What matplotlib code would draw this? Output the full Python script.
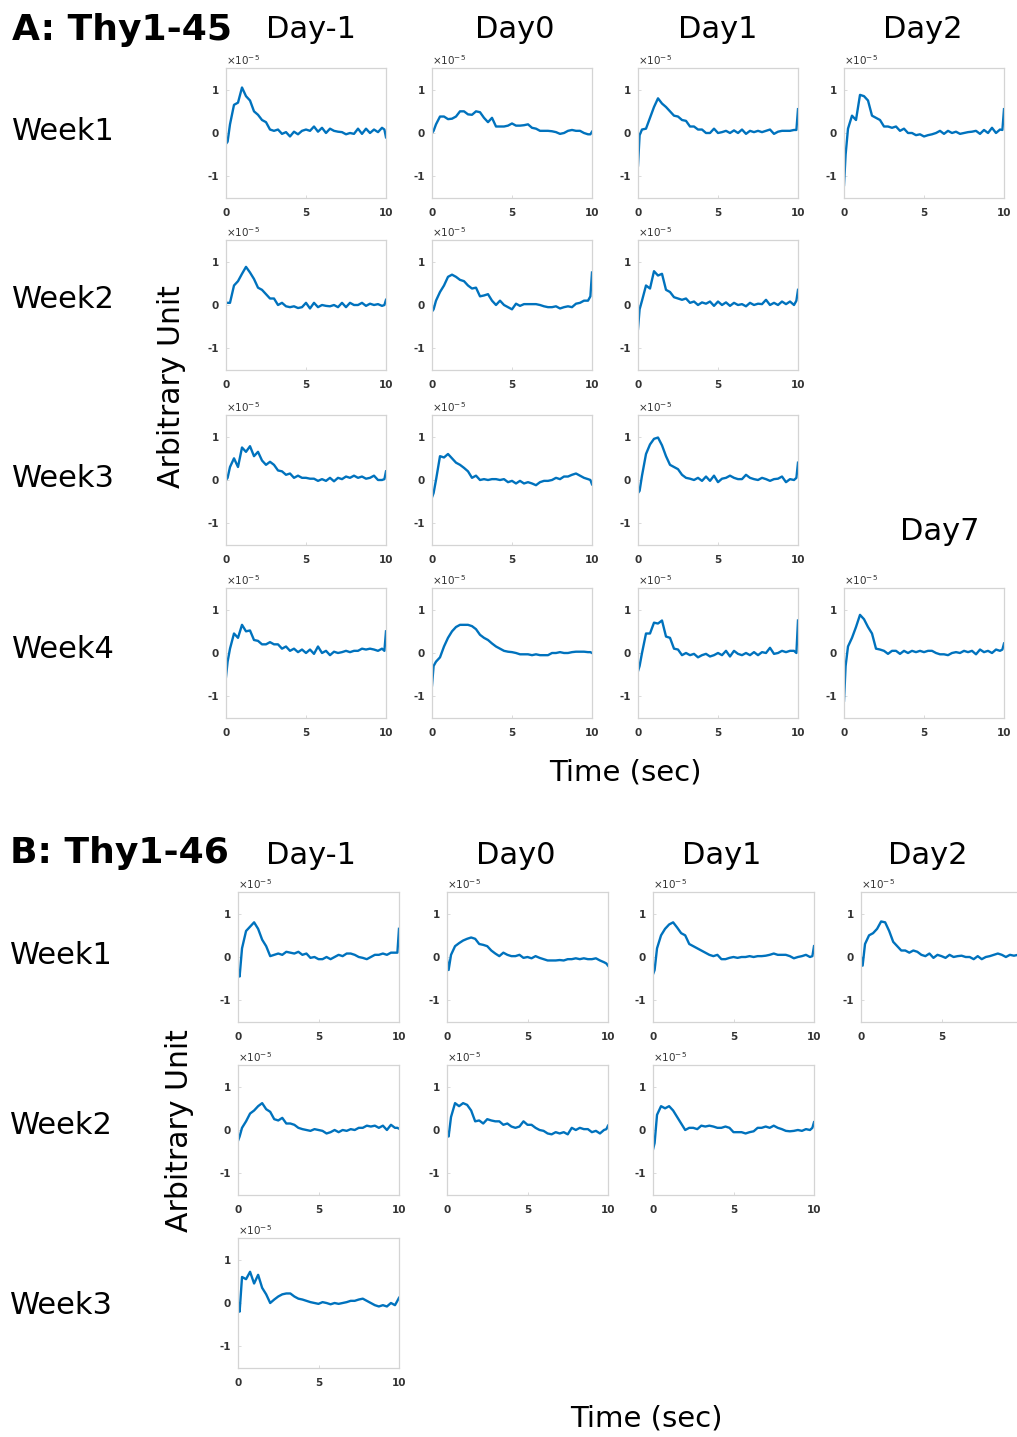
import matplotlib
matplotlib.use("Agg")
import matplotlib.pyplot as plt

# ---------------- data ----------------
TIME = [0, 0.1, 0.25, 0.5, 0.75, 1.0, 1.25, 1.5, 1.75, 2.0, 2.25, 2.5, 2.75, 3.0,
        3.25, 3.5, 3.75, 4.0, 4.25, 4.5, 4.75, 5.0, 5.25, 5.5, 5.75, 6.0, 6.25,
        6.5, 6.75, 7.0, 7.25, 7.5, 7.75, 8.0, 8.25, 8.5, 8.75, 9.0, 9.25, 9.5,
        9.75, 9.9, 10.0]

day_labels = ["Day-1", "Day0", "Day1", "Day2"]
week_labels_a = ["Week1", "Week2", "Week3", "Week4"]
week_labels_b = ["Week1", "Week2", "Week3"]
x_ticks = [0, 5, 10]
y_ticks = [-1, 0, 1]

# Thy1-45 (values x 1e-5)
a_w1_dm1 = [-0.25, -0.2, 0.2, 0.65, 0.7, 1.05, 0.85, 0.75, 0.5, 0.42, 0.3, 0.25, 0.08, 0.05,
            0.08, -0.02, 0.02, -0.08, 0.03, -0.03, 0.05, 0.08, 0.05, 0.15, 0.03, 0.12, 0.0,
            0.1, 0.05, 0.03, 0.02, -0.03, 0.0, -0.02, 0.1, -0.02, 0.1, 0.0, 0.08, 0.02,
            0.12, 0.08, -0.1]
a_w1_d0 = [0.0, 0.05, 0.2, 0.38, 0.38, 0.32, 0.33, 0.38, 0.5, 0.5, 0.43, 0.42, 0.5, 0.48,
           0.35, 0.25, 0.35, 0.15, 0.15, 0.15, 0.17, 0.22, 0.17, 0.17, 0.18, 0.2, 0.12,
           0.1, 0.05, 0.05, 0.05, 0.04, 0.02, -0.02, 0.0, 0.05, 0.07, 0.05, 0.05, 0.0,
           -0.03, -0.03, 0.03]
a_w1_d1 = [-0.75, -0.05, 0.08, 0.1, 0.35, 0.6, 0.8, 0.68, 0.6, 0.5, 0.4, 0.38, 0.3, 0.28,
           0.15, 0.15, 0.08, 0.08, 0.0, 0.0, 0.1, 0.0, 0.02, 0.05, 0.0, 0.06, 0.0,
           0.08, -0.02, 0.05, 0.02, 0.05, 0.02, 0.05, 0.08, -0.02, 0.03, 0.05, 0.05, 0.05,
           0.07, 0.07, 0.55]
a_w1_d2 = [-1.2, -0.5, 0.1, 0.4, 0.3, 0.88, 0.85, 0.75, 0.4, 0.35, 0.3, 0.15, 0.15, 0.12,
           0.15, 0.05, 0.1, 0.0, 0.0, -0.05, -0.03, -0.08, -0.05, -0.03, 0.0, 0.05, -0.02,
           0.05, 0.0, 0.03, -0.02, 0.0, 0.02, 0.03, 0.05, -0.02, 0.07, 0.0, 0.12, 0.0,
           0.08, 0.07, 0.55]
a_w2_dm1 = [0.05, 0.05, 0.05, 0.45, 0.55, 0.72, 0.88, 0.75, 0.6, 0.4, 0.35, 0.25, 0.15, 0.15,
            0.0, 0.05, -0.03, -0.05, -0.03, -0.07, -0.05, 0.05, -0.08, 0.05, -0.05, 0.0, -0.02,
            -0.03, 0.0, -0.05, 0.05, -0.05, 0.05, 0.0, 0.0, 0.05, -0.02, 0.03, 0.0, 0.02,
            -0.02, 0.0, 0.12]
a_w2_d0 = [-0.15, -0.1, 0.1, 0.3, 0.45, 0.65, 0.7, 0.65, 0.58, 0.55, 0.45, 0.38, 0.4, 0.2,
           0.22, 0.25, 0.1, 0.0, 0.1, 0.0, -0.05, -0.1, 0.03, -0.02, 0.02, 0.02, 0.02,
           0.02, 0.0, -0.03, -0.05, -0.05, -0.03, -0.08, -0.05, -0.03, -0.05, 0.03, 0.05, 0.1,
           0.1, 0.2, 0.75]
a_w2_d1 = [-0.55, -0.1, 0.1, 0.45, 0.38, 0.78, 0.68, 0.72, 0.35, 0.3, 0.18, 0.15, 0.12, 0.15,
           0.05, 0.08, 0.0, 0.06, 0.03, 0.08, -0.02, 0.08, 0.0, 0.06, -0.02, 0.05, 0.0,
           0.02, -0.03, 0.05, 0.0, 0.03, 0.02, 0.12, 0.0, 0.05, 0.0, 0.08, 0.02, 0.08,
           0.0, 0.1, 0.35]
a_w3_dm1 = [0.0, 0.05, 0.3, 0.5, 0.3, 0.75, 0.65, 0.78, 0.55, 0.65, 0.45, 0.35, 0.42, 0.35,
            0.22, 0.2, 0.12, 0.15, 0.05, 0.1, 0.05, 0.05, 0.03, 0.03, -0.02, 0.02, -0.02,
            0.05, -0.03, 0.05, 0.02, 0.08, 0.05, 0.1, 0.05, 0.08, 0.03, 0.05, 0.1, 0.0,
            0.0, 0.02, 0.2]
a_w3_d0 = [-0.4, -0.3, 0.0, 0.55, 0.52, 0.6, 0.5, 0.4, 0.35, 0.28, 0.2, 0.05, 0.1, 0.0,
           0.02, 0.0, 0.02, 0.02, 0.0, 0.02, -0.05, -0.02, -0.08, -0.02, -0.08, -0.05, -0.08,
           -0.12, -0.05, -0.02, -0.02, 0.0, 0.05, 0.02, 0.08, 0.08, 0.12, 0.15, 0.1, 0.05,
           0.02, 0.0, -0.1]
a_w3_d1 = [-0.3, -0.25, 0.1, 0.6, 0.82, 0.95, 0.98, 0.8, 0.55, 0.35, 0.3, 0.25, 0.12, 0.05,
           0.03, 0.0, 0.05, -0.02, 0.08, -0.02, 0.1, -0.05, 0.03, 0.05, 0.1, 0.05, 0.02,
           0.02, 0.12, 0.05, 0.02, 0.0, 0.05, 0.02, -0.02, 0.02, 0.03, 0.08, -0.05, 0.02,
           0.0, 0.05, 0.4]
a_w4_dm1 = [-0.55, -0.2, 0.1, 0.45, 0.35, 0.65, 0.5, 0.52, 0.3, 0.28, 0.2, 0.2, 0.25, 0.2,
            0.2, 0.1, 0.15, 0.05, 0.1, 0.02, 0.08, 0.0, 0.08, -0.02, 0.15, 0.0, 0.05,
            -0.05, 0.03, 0.0, 0.02, 0.05, 0.02, 0.05, 0.05, 0.1, 0.08, 0.1, 0.08, 0.05,
            0.1, 0.05, 0.5]
a_w4_d0 = [-0.75, -0.3, -0.2, -0.1, 0.15, 0.35, 0.5, 0.6, 0.65, 0.65, 0.65, 0.62, 0.55, 0.42,
           0.35, 0.3, 0.22, 0.15, 0.1, 0.05, 0.03, 0.02, 0.0, -0.03, -0.03, -0.03, -0.05,
           -0.03, -0.05, -0.05, -0.05, 0.0, 0.0, 0.02, 0.0, 0.0, 0.02, 0.03, 0.03, 0.03,
           0.02, 0.02, 0.0]
a_w4_d1 = [-0.42, -0.3, 0.0, 0.45, 0.45, 0.7, 0.68, 0.75, 0.38, 0.35, 0.1, 0.08, -0.05, 0.0,
           -0.05, -0.02, -0.1, -0.05, -0.02, -0.08, -0.05, 0.0, -0.05, 0.05, -0.08, 0.05, -0.02,
           -0.05, 0.0, -0.05, 0.02, -0.05, 0.02, 0.0, 0.12, -0.02, 0.0, 0.05, 0.02, 0.05,
           0.05, 0.0, 0.75]
a_w4_d7 = [-1.1, -0.3, 0.15, 0.35, 0.6, 0.88, 0.78, 0.6, 0.45, 0.1, 0.08, 0.05, -0.02, 0.05,
           0.05, -0.02, 0.05, 0.0, 0.05, 0.02, 0.05, 0.02, 0.05, 0.05, 0.0, -0.03, -0.03,
           -0.05, 0.0, 0.02, 0.0, 0.05, 0.02, 0.05, -0.03, 0.08, 0.02, 0.05, 0.0, 0.08,
           0.05, 0.08, 0.22]

# Thy1-46 (values x 1e-5)
b_w1_dm1 = [-0.3, -0.45, 0.2, 0.6, 0.7, 0.8, 0.65, 0.4, 0.25, 0.02, 0.05, 0.08, 0.05, 0.12,
            0.1, 0.08, 0.12, 0.05, 0.08, -0.02, 0.0, -0.05, -0.05, 0.0, -0.05, 0.0, 0.05,
            0.02, 0.08, 0.08, 0.05, 0.0, -0.02, -0.05, 0.0, 0.05, 0.05, 0.08, 0.05, 0.1,
            0.1, 0.1, 0.65]
b_w1_d0 = [-0.05, -0.3, 0.05, 0.25, 0.32, 0.38, 0.42, 0.45, 0.42, 0.3, 0.28, 0.25, 0.15, 0.08,
           0.02, 0.1, 0.05, 0.02, 0.02, 0.05, -0.02, 0.0, -0.03, 0.02, -0.02, -0.05, -0.08,
           -0.08, -0.08, -0.07, -0.08, -0.05, -0.05, -0.03, -0.05, -0.03, -0.05, -0.05, -0.03, -0.08,
           -0.12, -0.15, -0.2]
b_w1_d1 = [-0.4, -0.3, 0.2, 0.5, 0.65, 0.75, 0.8, 0.68, 0.55, 0.5, 0.3, 0.25, 0.2, 0.15,
           0.1, 0.05, 0.02, 0.05, -0.05, -0.05, -0.02, 0.0, -0.02, 0.0, 0.0, 0.02, 0.0,
           0.02, 0.02, 0.03, 0.05, 0.08, 0.05, 0.05, 0.05, 0.02, -0.03, 0.0, 0.02, 0.05,
           0.0, 0.02, 0.25]
b_w1_d2 = [0.0, -0.2, 0.3, 0.5, 0.55, 0.65, 0.82, 0.8, 0.6, 0.35, 0.25, 0.15, 0.15, 0.1,
           0.15, 0.12, 0.05, 0.02, 0.08, -0.02, 0.05, 0.02, -0.02, 0.05, 0.0, 0.02, 0.03,
           0.0, 0.0, -0.05, 0.02, -0.05, 0.0, 0.02, 0.05, 0.08, 0.05, 0.0, 0.05, 0.03,
           0.05, 0.05, 0.08]
b_w2_dm1 = [-0.25, -0.15, 0.05, 0.2, 0.38, 0.45, 0.55, 0.62, 0.48, 0.42, 0.25, 0.22, 0.28, 0.15,
            0.15, 0.12, 0.05, 0.02, 0.0, -0.02, 0.02, 0.0, -0.02, -0.08, -0.05, 0.0, -0.05,
            0.0, -0.02, 0.02, 0.0, 0.05, 0.05, 0.1, 0.08, 0.1, 0.05, 0.1, 0.0, 0.12,
            0.05, 0.05, 0.03]
b_w2_d0 = [-0.05, -0.15, 0.3, 0.62, 0.55, 0.62, 0.58, 0.45, 0.2, 0.22, 0.15, 0.25, 0.22, 0.2,
           0.2, 0.12, 0.15, 0.08, 0.05, 0.08, 0.2, 0.12, 0.12, 0.05, 0.0, -0.02, -0.08,
           -0.1, -0.05, -0.08, -0.05, -0.1, 0.05, 0.0, 0.05, 0.02, 0.02, -0.05, -0.02, -0.08,
           0.0, 0.02, 0.1]
b_w2_d1 = [-0.45, -0.3, 0.35, 0.55, 0.5, 0.55, 0.45, 0.3, 0.15, 0.0, 0.05, 0.05, 0.02, 0.1,
           0.08, 0.1, 0.08, 0.05, 0.05, 0.08, 0.05, -0.05, -0.05, -0.05, -0.08, -0.05, -0.03,
           0.05, 0.05, 0.08, 0.05, 0.1, 0.05, 0.02, -0.02, -0.03, -0.02, 0.0, -0.02, 0.02,
           0.0, 0.05, 0.18]
b_w3_dm1 = [0.0, -0.2, 0.6, 0.55, 0.72, 0.45, 0.65, 0.35, 0.2, 0.0, 0.08, 0.15, 0.2, 0.22,
            0.22, 0.15, 0.1, 0.08, 0.05, 0.02, 0.0, -0.02, 0.02, 0.0, -0.03, 0.0, -0.02,
            0.0, 0.02, 0.05, 0.05, 0.08, 0.1, 0.05, 0.0, -0.05, -0.08, -0.05, -0.08, 0.0,
            -0.05, 0.05, 0.12]

# grid layout (row, col) -> series
panels_a = [
    (0, 0, a_w1_dm1), (0, 1, a_w1_d0), (0, 2, a_w1_d1), (0, 3, a_w1_d2),
    (1, 0, a_w2_dm1), (1, 1, a_w2_d0), (1, 2, a_w2_d1),
    (2, 0, a_w3_dm1), (2, 1, a_w3_d0), (2, 2, a_w3_d1),
    (3, 0, a_w4_dm1), (3, 1, a_w4_d0), (3, 2, a_w4_d1), (3, 3, a_w4_d7),
]
panels_b = [
    (0, 0, b_w1_dm1), (0, 1, b_w1_d0), (0, 2, b_w1_d1), (0, 3, b_w1_d2),
    (1, 0, b_w2_dm1), (1, 1, b_w2_d0), (1, 2, b_w2_d1),
    (2, 0, b_w3_dm1),
]

# ---------------- figure ----------------
W, H = 1017, 1437
fig = plt.figure(figsize=(W / 100, H / 100), dpi=100)
fig.patch.set_facecolor("white")

LINE = "#0072BD"
SPINE = "#d4d4d4"
TICKC = "#333333"
FONT = "DejaVu Sans"


def add_panel(left, top, w, h, y):
    ax = fig.add_axes([left / W, 1 - (top + h) / H, w / W, h / H])
    ax.plot(TIME, y, color=LINE, lw=1.7)
    ax.set_xlim(0, 10)
    ax.set_ylim(-1.5, 1.5)
    ax.set_xticks(x_ticks)
    ax.set_yticks(y_ticks)
    # hide x tick labels that would fall outside the figure (cropped in the original)
    right_px = left + w
    xt = [str(v) if (left + w * v / 10 + 8) < W else "" for v in x_ticks]
    ax.set_xticklabels(xt)
    ax.set_yticklabels([str(v) for v in y_ticks])
    for s in ax.spines.values():
        s.set_color(SPINE)
        s.set_linewidth(0.9)
    ax.tick_params(direction="in", length=2, width=0.6, color=SPINE,
                   labelsize=7.5, labelcolor=TICKC)
    ax.tick_params(axis="x", pad=7)
    ax.tick_params(axis="y", pad=5)
    for lab in ax.get_xticklabels() + ax.get_yticklabels():
        lab.set_fontweight("bold")
    ax.text(0.0, 1.01, r"$\times10^{-5}$", transform=ax.transAxes,
            fontsize=7.5, color=TICKC, ha="left", va="bottom")
    return ax


def ftext(x, y, s, **kw):
    fig.text(x / W, 1 - y / H, s, family=FONT, **kw)


# Section A
a_lefts = [226, 432, 638, 844]
a_tops = [68, 240, 415, 588]
for r, c, y in panels_a:
    add_panel(a_lefts[c], a_tops[r], 160, 130, y)

ftext(12, 30, "A: Thy1-45", fontsize=26, fontweight="bold", ha="left", va="center")
for x, lab in zip([311, 515, 718, 923], day_labels):
    ftext(x, 30, lab, fontsize=22, ha="center", va="center")
for y, lab in zip([132, 299, 479, 649], week_labels_a):
    ftext(12, y, lab, fontsize=22, ha="left", va="center")
ftext(172, 387, "Arbitrary Unit", fontsize=21.5, rotation=90, ha="center", va="center")
ftext(625, 773, "Time (sec)", fontsize=21, ha="center", va="center")
ftext(940, 532, "Day7", fontsize=22, ha="center", va="center")

# Section B
b_lefts = [238, 447, 653, 861]
b_tops = [892, 1065, 1238]
for r, c, y in panels_b:
    add_panel(b_lefts[c], b_tops[r], 161, 130, y)

ftext(10, 853, "B: Thy1-46", fontsize=26, fontweight="bold", ha="left", va="center")
for x, lab in zip([311, 516, 722, 928], day_labels):
    ftext(x, 855, lab, fontsize=22, ha="center", va="center")
for y, lab in zip([955, 1125, 1306], week_labels_b):
    ftext(10, y, lab, fontsize=22, ha="left", va="center")
ftext(180, 1131, "Arbitrary Unit", fontsize=21.5, rotation=90, ha="center", va="center")
ftext(646, 1418, "Time (sec)", fontsize=21, ha="center", va="center")

fig.savefig("out.png", dpi=100, facecolor="white")
